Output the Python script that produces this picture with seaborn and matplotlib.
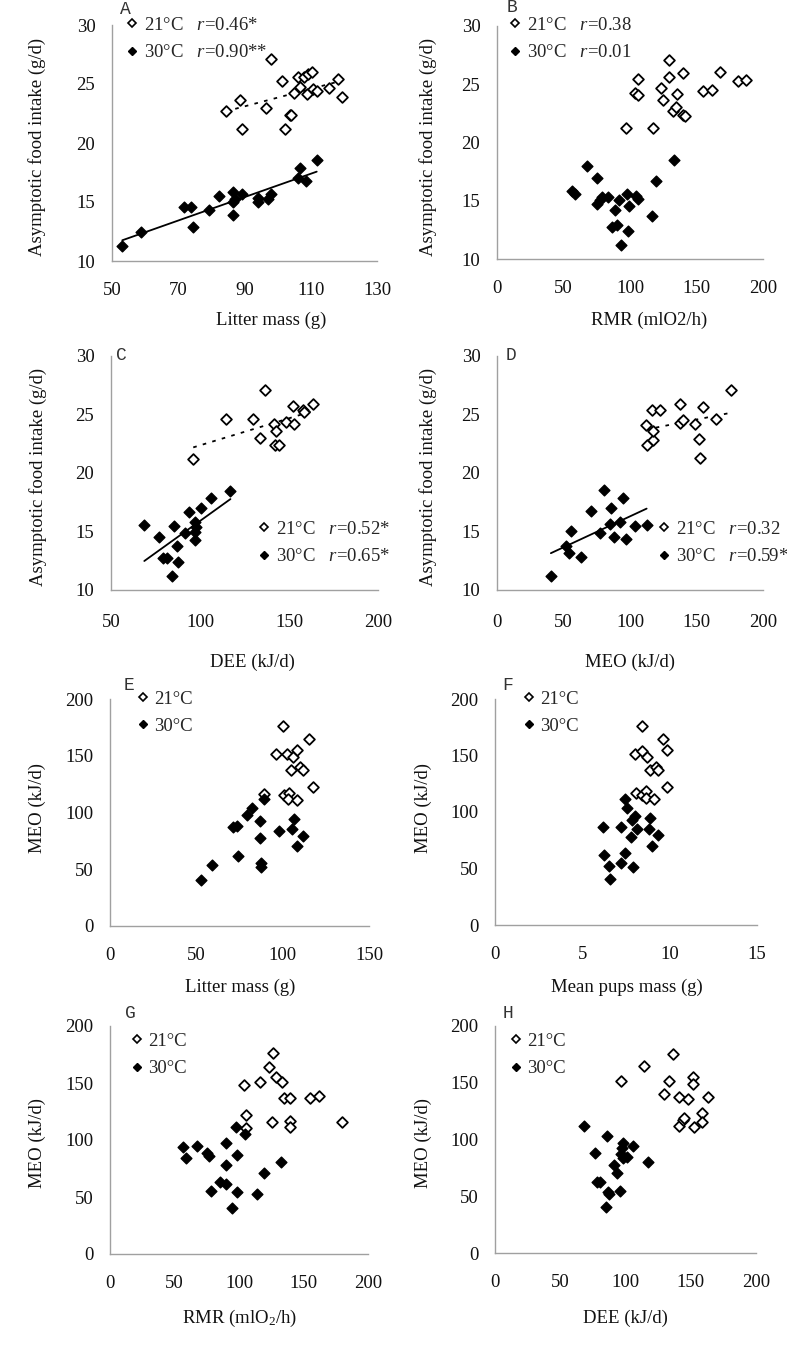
import matplotlib
matplotlib.use("Agg")
import matplotlib.pyplot as plt
from matplotlib.lines import Line2D
import seaborn as sns

# ---- data ----
# A: litter mass vs asymptotic food intake
a_mass_21 = [84.3, 88.6, 89.3, 96.5, 98.0, 101.2, 102.1, 103.6, 104.1, 105.0, 106.3,
             106.8, 108.0, 109.0, 109.3, 110.3, 110.8, 111.8, 115.4, 118.2, 119.4]
a_food_21 = [22.74, 23.64, 21.2, 23.0, 27.09, 25.28, 21.2, 22.37, 22.37, 24.27, 25.56,
             24.72, 25.56, 24.15, 25.85, 26.05, 24.55, 24.44, 24.69, 25.4, 23.87]
a_mass_30 = [53.1, 58.7, 71.8, 73.8, 74.5, 79.3, 82.3, 86.4, 86.6, 86.6, 87.1, 89.3,
             94.0, 94.2, 97.0, 98.0, 106.3, 106.8, 108.5, 111.8]
a_food_30 = [11.30, 12.49, 14.6, 14.6, 12.9, 14.32, 15.51, 15.88, 15.03, 13.9, 15.23,
             15.65, 15.37, 15.03, 15.23, 15.65, 17.0, 17.85, 16.8, 18.56]

# B: RMR vs asymptotic food intake
b_rmr_21 = [97, 103.8, 105.8, 105.8, 117, 123, 125, 129.5, 129.5, 132, 134.3, 135,
            139.5, 140, 141.3, 155, 162, 167.5, 181.3, 187.5]
b_food_21 = [21.23, 24.29, 24.11, 25.43, 21.23, 24.69, 23.66, 27.09, 25.66, 22.74, 23.09,
             24.14, 25.94, 22.37, 22.29, 24.46, 24.51, 26.03, 25.29, 25.37]
b_rmr_30 = [56.3, 58.3, 67.5, 75.5, 75.5, 77.5, 79.3, 83.8, 86.8, 88.8, 90.5, 91.8,
            93.3, 98.8, 98.0, 99.5, 104.5, 106.3, 116.8, 119.5, 133.3]
b_food_30 = [15.8, 15.57, 17.94, 16.94, 14.74, 15.09, 15.31, 15.31, 12.74, 14.23, 12.94,
             15.09, 11.23, 12.37, 15.57, 14.51, 15.43, 15.14, 13.71, 16.66, 18.46]

# C: DEE vs asymptotic food intake
c_dee_21 = [96.2, 114.5, 129.9, 133.6, 136.4, 141.6, 142.0, 142.6, 144.3, 148.2, 152.3,
            152.7, 157.9, 158.5, 163.5]
c_food_21 = [21.18, 24.65, 24.59, 23.0, 27.07, 24.22, 22.38, 23.6, 22.38, 24.37, 25.73,
             24.17, 25.36, 25.22, 25.93]
c_dee_30 = [68.7, 76.9, 79.0, 81.2, 85.5, 87.2, 87.8, 84.4, 91.5, 93.9, 97.1, 97.1, 97.1,
            97.5, 100.5, 106.1, 117.1]
c_food_30 = [15.55, 14.55, 12.7, 12.77, 15.46, 13.76, 12.36, 11.22, 14.89, 16.69, 15.83,
             14.98, 14.27, 15.4, 16.97, 17.88, 18.48]

# D: MEO vs asymptotic food intake
d_meo_21 = [112, 112.5, 117, 117.5, 116.3, 122.5, 137.5, 137.5, 139.5, 148.8, 152, 152.5,
            155, 164.3, 175.8]
d_food_21 = [24.08, 22.38, 22.86, 23.6, 25.36, 25.42, 25.93, 24.28, 24.57, 24.22, 22.94,
             21.24, 25.65, 24.65, 27.07]
d_meo_30 = [40.5, 51.8, 53.8, 55.5, 63, 70.8, 77.5, 80.5, 85, 85.5, 88.3, 92.5, 95, 97,
            103.8, 112.5]
d_food_30 = [11.22, 13.78, 13.19, 15.06, 12.79, 16.74, 14.89, 18.53, 15.6, 16.97, 14.55,
             15.83, 17.88, 14.32, 15.46, 15.55]

# E: litter mass vs MEO
e_mass_21 = [100.4, 96.1, 102.3, 105.8, 108.5, 115.4, 104.8, 110.0, 112.0, 117.8, 89.4,
             100.8, 103.9, 103.3, 108.1]
e_meo_21 = [176.5, 151.5, 151.5, 148.5, 155.3, 164.7, 137.1, 140, 137.1, 122.4, 116.5,
            115.6, 117.6, 112.1, 110.6]
e_mass_30 = [52.7, 58.9, 71.4, 73.4, 74.3, 79.5, 82.4, 86.9, 86.9, 87.3, 87.3, 89.4, 98.1,
             106.6, 105.6, 108.5, 112.0]
e_meo_30 = [40.6, 53.8, 87.6, 88.2, 61.8, 97.4, 104.4, 92.9, 77.4, 55.3, 52.4, 111.8, 84.1,
            94.4, 85.3, 70.9, 79.7]

# F: mean pups mass vs MEO
f_pup_21 = [8.42, 8.04, 8.44, 8.73, 9.59, 9.85, 8.9, 9.21, 9.34, 9.85, 8.06, 8.39, 8.67,
            8.67, 9.09]
f_meo_21 = [176.3, 151.2, 153.6, 148.6, 164.5, 155.1, 136.8, 139.7, 136.8, 122.0, 116.7,
            115.2, 118.2, 112.3, 111.4]
f_pup_30 = [6.58, 6.52, 6.25, 6.16, 7.19, 7.19, 7.43, 7.43, 7.56, 7.85, 7.91, 7.78, 8.0,
            8.14, 8.82, 8.9, 9.01, 9.34]
f_meo_30 = [40.6, 52.1, 61.9, 87, 55.1, 87, 64, 111.4, 103.4, 92.5, 51.5, 78.3, 96.6, 84.8,
            84.8, 94.6, 70.1, 79.8]

# G: RMR vs MEO
g_rmr_21 = [126.4, 123.3, 116.5, 103.6, 128.4, 133.6, 134.9, 139.8, 154.8, 161.8, 105.7,
            105.7, 125.6, 139.8, 139.8, 180.1]
g_meo_21 = [176.1, 164.4, 150.7, 148.3, 155, 150.7, 136.6, 136.6, 136.6, 139, 122, 110.4,
            115.6, 116.8, 111.2, 115.6]
g_rmr_30 = [56.6, 58.7, 67.4, 75.2, 76.5, 78.6, 85.5, 90.2, 89.7, 90.2, 94.6, 97.4, 98.4,
            98.7, 104.9, 114.2, 119.4, 132.3]
g_meo_30 = [93.7, 84.1, 94.6, 88.8, 85.8, 55.5, 63.1, 61.6, 97.5, 77.7, 40.3, 111.8, 86.7,
            54.0, 105.1, 52.6, 70.9, 80.3]

# H: DEE vs MEO
h_dee_21 = [96.3, 114.4, 136.7, 133.3, 129.5, 141.3, 148.1, 152, 151.5, 163.5, 141.3,
            143.9, 145.1, 152.5, 158.4, 158.4]
h_meo_21 = [151.6, 164.8, 175.1, 151.6, 139.9, 137.2, 135.5, 154.8, 148.7, 137.2, 112,
            117.3, 118.8, 110.9, 123.2, 115.2]
h_dee_30 = [68.5, 76.6, 77.9, 80.5, 85.6, 84.8, 86.8, 87.6, 91.2, 93.7, 95.8, 96.3, 97.1,
            97.8, 98.3, 100.9, 106, 117]
h_meo_30 = [112.3, 87.9, 62.5, 62.5, 103.5, 40.8, 53.7, 52.2, 77.7, 70.4, 54.8, 87.4, 92.4,
            96.8, 83.6, 85, 94.4, 79.8]

food_label = "Asymptotic food intake (g/d)"
meo_label = "MEO (kJ/d)"

panels = [
    dict(tag="A", x21=a_mass_21, y21=a_food_21, x30=a_mass_30, y30=a_food_30,
         xlabel="Litter mass (g)", ylabel=food_label, xlim=(50, 130), xticks=[50, 70, 90, 110, 130],
         ylim=(10, 30), yticks=[10, 15, 20, 25, 30],
         labels=["21°C   $r$=0.46*", "30°C   $r$=0.90**"], fit=True,
         box=(112, 25, 377, 261), xl=(271, 320), yl=(37, 147), let=(125, 9), leg=(132, 27), pad=15),
    dict(tag="B", x21=b_rmr_21, y21=b_food_21, x30=b_rmr_30, y30=b_food_30,
         xlabel="RMR (mlO2/h)", ylabel=food_label, xlim=(0, 200), xticks=[0, 50, 100, 150, 200],
         ylim=(10, 30), yticks=[10, 15, 20, 25, 30],
         labels=["21°C   $r$=0.38", "30°C   $r$=0.01"], fit=False,
         box=(497, 26, 763, 259), xl=(649, 320), yl=(428, 147), let=(512, 8), leg=(515, 27), pad=15),
    dict(tag="C", x21=c_dee_21, y21=c_food_21, x30=c_dee_30, y30=c_food_30,
         xlabel="DEE (kJ/d)", ylabel=food_label, xlim=(50, 200), xticks=[50, 100, 150, 200],
         ylim=(10, 30), yticks=[10, 15, 20, 25, 30],
         labels=["21°C   $r$=0.52*", "30°C   $r$=0.65*"], fit=True,
         box=(111, 356, 378, 590), xl=(252, 662), yl=(38, 477), let=(121, 356), leg=(264, 531), pad=17),
    dict(tag="D", x21=d_meo_21, y21=d_food_21, x30=d_meo_30, y30=d_food_30,
         xlabel="MEO (kJ/d)", ylabel=food_label, xlim=(0, 200), xticks=[0, 50, 100, 150, 200],
         ylim=(10, 30), yticks=[10, 15, 20, 25, 30],
         labels=["21°C   $r$=0.32", "30°C   $r$=0.59*"], fit=True,
         box=(497, 356, 763, 590), xl=(630, 662), yl=(428, 477), let=(511, 356), leg=(664, 531), pad=17),
    dict(tag="E", x21=e_mass_21, y21=e_meo_21, x30=e_mass_30, y30=e_meo_30,
         xlabel="Litter mass (g)", ylabel=meo_label, xlim=(0, 150), xticks=[0, 50, 100, 150],
         ylim=(0, 200), yticks=[0, 50, 100, 150, 200],
         labels=["21°C", "30°C"], fit=False,
         box=(110, 699, 369, 926), xl=(240, 987), yl=(37, 808), let=(129, 686), leg=(143, 701), pad=15),
    dict(tag="F", x21=f_pup_21, y21=f_meo_21, x30=f_pup_30, y30=f_meo_30,
         xlabel="Mean pups mass (g)", ylabel=meo_label, xlim=(0, 15), xticks=[0, 5, 10, 15],
         ylim=(0, 200), yticks=[0, 50, 100, 150, 200],
         labels=["21°C", "30°C"], fit=False,
         box=(495, 699, 757, 925), xl=(627, 987), yl=(423, 808), let=(508, 686), leg=(529, 701), pad=15),
    dict(tag="G", x21=g_rmr_21, y21=g_meo_21, x30=g_rmr_30, y30=g_meo_30,
         xlabel="RMR (mlO$_2$/h)", ylabel=meo_label, xlim=(0, 200), xticks=[0, 50, 100, 150, 200],
         ylim=(0, 200), yticks=[0, 50, 100, 150, 200],
         labels=["21°C", "30°C"], fit=False,
         box=(110, 1026, 368, 1254), xl=(240, 1318), yl=(37, 1143), let=(130, 1014), leg=(137, 1043), pad=15),
    dict(tag="H", x21=h_dee_21, y21=h_meo_21, x30=h_dee_30, y30=h_meo_30,
         xlabel="DEE (kJ/d)", ylabel=meo_label, xlim=(0, 200), xticks=[0, 50, 100, 150, 200],
         ylim=(0, 200), yticks=[0, 50, 100, 150, 200],
         labels=["21°C", "30°C"], fit=False,
         box=(495, 1026, 756, 1253), xl=(625, 1318), yl=(423, 1143), let=(508, 1014), leg=(516, 1043), pad=15),
]

sns.set_style("white")
plt.rcParams["font.family"] = ["Liberation Serif", "DejaVu Serif"]
plt.rcParams["mathtext.fontset"] = "custom"
plt.rcParams["mathtext.rm"] = "Liberation Serif"
plt.rcParams["mathtext.it"] = "Liberation Serif:italic"

FS = 13.5
W, H = 787, 1346
fig = plt.figure(figsize=(W / 100, H / 100), dpi=100)


def fx(x):
    return x / W


def fy(y):
    return 1 - y / H


for p in panels:
    l, t, r, b = p["box"]
    ax = fig.add_axes([fx(l), fy(b), fx(r - l), (b - t) / H])

    if p["fit"]:
        sns.regplot(x=p["x21"], y=p["y21"], ax=ax, scatter=False, ci=None,
                    line_kws=dict(color="black", lw=1.3, ls=(0, (2, 3.5))))
        sns.regplot(x=p["x30"], y=p["y30"], ax=ax, scatter=False, ci=None,
                    line_kws=dict(color="black", lw=1.3))

    sns.scatterplot(x=p["x21"], y=p["y21"], ax=ax, marker="D", s=30, color="white",
                    edgecolor="black", linewidth=1.3, legend=False, zorder=3)
    sns.scatterplot(x=p["x30"], y=p["y30"], ax=ax, marker="D", s=30, color="black",
                    edgecolor="black", linewidth=1.0, legend=False, zorder=3)

    ax.set_xlim(*p["xlim"])
    ax.set_ylim(*p["ylim"])
    ax.set_xticks(p["xticks"])
    ax.set_yticks(p["yticks"])
    ax.tick_params(axis="x", direction="in", length=5, width=0.8, color="#999999",
                   labelsize=FS, pad=p["pad"], labelcolor="#111111")
    ax.tick_params(axis="y", direction="in", length=4, width=0.8, color="#999999",
                   labelsize=FS, pad=12, labelcolor="#111111")
    ax.spines[["top", "right"]].set_visible(False)
    for s in ["left", "bottom"]:
        ax.spines[s].set_color("#a0a0a0")
        ax.spines[s].set_linewidth(1.0)
    ax.grid(False)

    ax.set_xlabel(p["xlabel"], fontsize=FS, color="#111111")
    ax.set_ylabel(p["ylabel"], fontsize=FS, color="#111111")
    ax.xaxis.label.set_va("center")
    ax.yaxis.label.set_va("center")
    ax.xaxis.set_label_coords(fx(p["xl"][0]), fy(p["xl"][1]), transform=fig.transFigure)
    ax.yaxis.set_label_coords(fx(p["yl"][0]), fy(p["yl"][1]), transform=fig.transFigure)

    handles = [
        Line2D([], [], marker="D", ls="none", ms=4.3, mfc="white", mec="black", mew=1.2),
        Line2D([], [], marker="D", ls="none", ms=4.3, mfc="black", mec="black", mew=1.0),
    ]
    mx, my = p["leg"]
    ax.legend(handles, p["labels"], loc="upper left",
              bbox_to_anchor=(fx(mx - 7.2), fy(my - 10.5)), bbox_transform=fig.transFigure,
              frameon=False, fontsize=FS, handlelength=0.8, handletextpad=0.2,
              labelspacing=0.55, borderpad=0, borderaxespad=0)

    fig.text(fx(p["let"][0]), fy(p["let"][1]), p["tag"], ha="center", va="center",
             fontsize=13, color="#333333", family="Liberation Mono")

fig.savefig("out.png", dpi=100)
